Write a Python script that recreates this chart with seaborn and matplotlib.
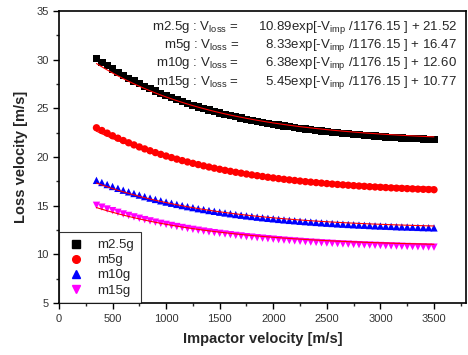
import numpy as np
import pandas as pd
import matplotlib
matplotlib.use("Agg")
import matplotlib.pyplot as plt
from matplotlib.ticker import MultipleLocator
from matplotlib.lines import Line2D
import seaborn as sns

# impactor velocity grid [m/s]
v_imp = list(range(350, 3501, 50))

m25g = [30.11, 29.74, 29.38, 29.04, 28.71, 28.40, 28.10, 27.81, 27.53, 27.27,
        27.02, 26.77, 26.54, 26.32, 26.10, 25.90, 25.70, 25.51, 25.33, 25.16,
        24.99, 24.84, 24.68, 24.54, 24.40, 24.26, 24.14, 24.01, 23.89, 23.78,
        23.67, 23.57, 23.47, 23.37, 23.28, 23.20, 23.11, 23.03, 22.95, 22.88,
        22.81, 22.74, 22.68, 22.61, 22.55, 22.50, 22.44, 22.39, 22.34, 22.29,
        22.25, 22.20, 22.16, 22.12, 22.08, 22.04, 22.01, 21.97, 21.94, 21.91,
        21.88, 21.85, 21.82, 21.79]
m5g = [23.01, 22.73, 22.46, 22.19, 21.94, 21.70, 21.47, 21.25, 21.04, 20.84,
       20.65, 20.46, 20.28, 20.11, 19.95, 19.79, 19.64, 19.50, 19.36, 19.23,
       19.10, 18.98, 18.86, 18.75, 18.64, 18.54, 18.44, 18.35, 18.26, 18.17,
       18.09, 18.01, 17.93, 17.86, 17.79, 17.72, 17.66, 17.60, 17.54, 17.48,
       17.43, 17.38, 17.33, 17.28, 17.23, 17.19, 17.15, 17.11, 17.07, 17.03,
       17.00, 16.96, 16.93, 16.90, 16.87, 16.84, 16.81, 16.79, 16.76, 16.74,
       16.71, 16.69, 16.67, 16.65]
m10g = [17.61, 17.39, 17.18, 16.98, 16.79, 16.60, 16.43, 16.26, 16.10, 15.94,
        15.79, 15.65, 15.51, 15.38, 15.26, 15.14, 15.02, 14.91, 14.81, 14.70,
        14.61, 14.51, 14.43, 14.34, 14.26, 14.18, 14.10, 14.03, 13.96, 13.90,
        13.83, 13.77, 13.71, 13.66, 13.60, 13.55, 13.50, 13.46, 13.41, 13.37,
        13.33, 13.29, 13.25, 13.21, 13.18, 13.14, 13.11, 13.08, 13.05, 13.02,
        13.00, 12.97, 12.94, 12.92, 12.90, 12.88, 12.85, 12.83, 12.82, 12.80,
        12.78, 12.76, 12.75, 12.73]
m15g = [15.05, 14.86, 14.67, 14.50, 14.33, 14.16, 14.01, 13.86, 13.72, 13.58,
        13.45, 13.32, 13.20, 13.09, 12.98, 12.87, 12.77, 12.67, 12.58, 12.49,
        12.40, 12.32, 12.24, 12.17, 12.10, 12.03, 11.96, 11.90, 11.83, 11.78,
        11.72, 11.67, 11.62, 11.57, 11.52, 11.47, 11.43, 11.39, 11.35, 11.31,
        11.27, 11.24, 11.20, 11.17, 11.14, 11.11, 11.08, 11.06, 11.03, 11.01,
        10.98, 10.96, 10.94, 10.92, 10.90, 10.88, 10.86, 10.84, 10.82, 10.81,
        10.79, 10.78, 10.76, 10.75]

series_names = ["m2.5g", "m5g", "m10g", "m15g"]
# fit parameters shown in the annotation: V_loss = A*exp(-V_imp/t) + y0
fit_A = [10.89, 8.33, 6.38, 5.45]
fit_y0 = [21.52, 16.47, 12.60, 10.77]
fit_t = 1176.15

colors = ["black", "red", "blue", "magenta"]
markers = ["s", "o", "^", "v"]

df = pd.DataFrame({
    "v_imp": v_imp * 4,
    "v_loss": m25g + m5g + m10g + m15g,
    "mass": [n for n in series_names for _ in v_imp],
})

sns.set_style("ticks")
plt.rcParams["font.family"] = ["Liberation Sans", "DejaVu Sans"]
plt.rcParams["mathtext.fontset"] = "custom"
plt.rcParams["mathtext.rm"] = "Liberation Sans"
plt.rcParams["mathtext.it"] = "Liberation Sans"

fig = plt.figure(figsize=(4.68, 3.55), dpi=100)
ax = fig.add_axes([0.126, 0.146, 0.87, 0.823])

sns.scatterplot(data=df, x="v_imp", y="v_loss", hue="mass", style="mass",
                palette=dict(zip(series_names, colors)),
                markers=dict(zip(series_names, markers)),
                s=28, linewidth=0, legend=False, ax=ax, zorder=2)

xfit = np.array(v_imp, dtype=float)
for A, y0 in zip(fit_A, fit_y0):
    ax.plot(xfit, A * np.exp(-xfit / fit_t) + y0, color="red", lw=0.8, zorder=3)

ax.set_xlim(0, 3800)
ax.set_ylim(5, 35)
ax.xaxis.set_major_locator(MultipleLocator(500))
ax.xaxis.set_minor_locator(MultipleLocator(250))
ax.yaxis.set_major_locator(MultipleLocator(5))
ax.yaxis.set_minor_locator(MultipleLocator(2.5))
ax.tick_params(which="major", direction="out", length=4, width=1, labelsize=8,
               colors="black", labelcolor="#333333")
ax.tick_params(which="minor", direction="out", length=2.5, width=1)
for s in ax.spines.values():
    s.set_visible(True)
    s.set_linewidth(1.2)
    s.set_color("black")

ax.set_xlabel("Impactor velocity [m/s]", fontsize=10.5, fontweight="bold", labelpad=6)
ax.set_ylabel("Loss velocity [m/s]", fontsize=10.5, fontweight="bold", labelpad=6)

# annotation of fitted equations
labels = [n + " : V$_{loss}$ =" for n in series_names]
eqs = ["%.2fexp[-V$_{imp}$ /1176.15 ] + %.2f" % (A, y0) for A, y0 in zip(fit_A, fit_y0)]
for i, (lab, eq) in enumerate(zip(labels, eqs)):
    yy = 0.972 - i * 0.062
    ax.text(0.442, yy, lab, transform=ax.transAxes, ha="right", va="top", fontsize=9.5)
    ax.text(0.978, yy, eq, transform=ax.transAxes, ha="right", va="top", fontsize=9.5)

handles = [Line2D([], [], ls="none", marker=m, color=c, markersize=5.5)
           for m, c in zip(markers, colors)]
leg = ax.legend(handles, series_names, loc="lower left", bbox_to_anchor=(0, 0),
                borderaxespad=0, fancybox=False, frameon=True, fontsize=9.5,
                handletextpad=0.8, labelspacing=0.22, borderpad=0.5,
                handlelength=1.6)
leg.get_frame().set_edgecolor("black")
leg.get_frame().set_linewidth(0.8)

plt.savefig("out.png", dpi=100)
